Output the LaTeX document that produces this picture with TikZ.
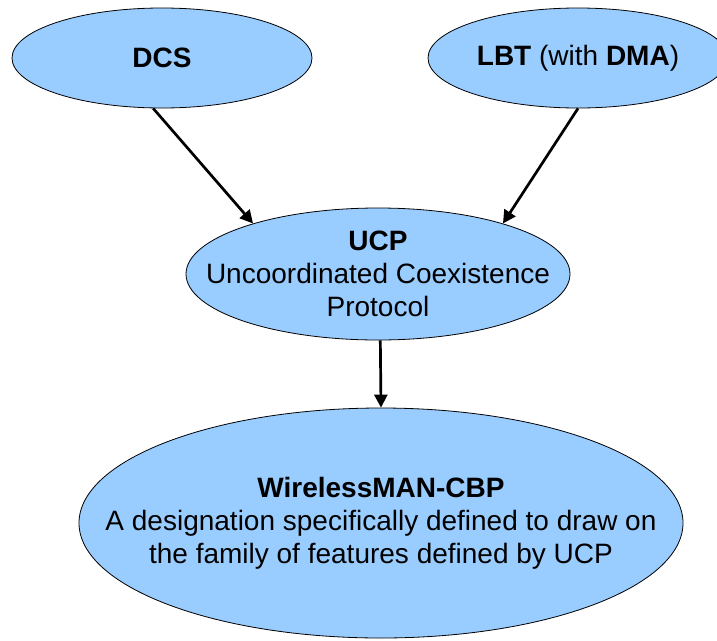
\documentclass[tikz,border=0pt]{standalone}
\usepackage{fontspec}
\setmainfont{Liberation Sans}
\usetikzlibrary{shapes.geometric,arrows.meta}
\definecolor{fillblue}{HTML}{99CCFF}
\begin{document}
\begin{tikzpicture}[x=1pt,y=-1pt,
  blob/.style={ellipse, draw=black, line width=0.8pt, fill=fillblue, inner sep=0pt},
  txt/.style={inner sep=0pt, align=center, font=\fontsize{28}{33}\selectfont},
  arr/.style={-{Triangle[length=13pt,width=13pt]}, line width=2.7pt}]
\useasboundingbox (0,0) rectangle (717,640);
\clip (0,0) rectangle (717,640);
\node[blob, minimum width=300pt, minimum height=100pt] (dcs) at (162,58) {};
\node[txt] (dcst) at (dcs.center) {\textbf{DCS}};
\node[blob, minimum width=300pt, minimum height=100pt] (lbt) at (578,58) {};
\node[txt] (lbtt) at (lbt.center) {\textbf{LBT} (with \textbf{DMA})};
\node[blob, minimum width=384pt, minimum height=132pt] (ucp) at (378,274) {};
\node[txt] (ucpt) at (ucp.center) {\textbf{UCP}\\Uncoordinated Coexistence\\Protocol};
\node[blob, minimum width=604pt, minimum height=230pt] (wl) at (381,523) {};
\node[txt] (wlt) at (wl.center) {\textbf{WirelessMAN-CBP}\\A designation specifically defined to draw on\\the family of features defined by UCP};
\draw[arr] (dcs.-100) -- (ucp.158);
\draw[arr] (lbt.-90) -- (ucp.22);
\draw[arr] (ucp.-88) -- (wl.north);
\end{tikzpicture}
\end{document}
